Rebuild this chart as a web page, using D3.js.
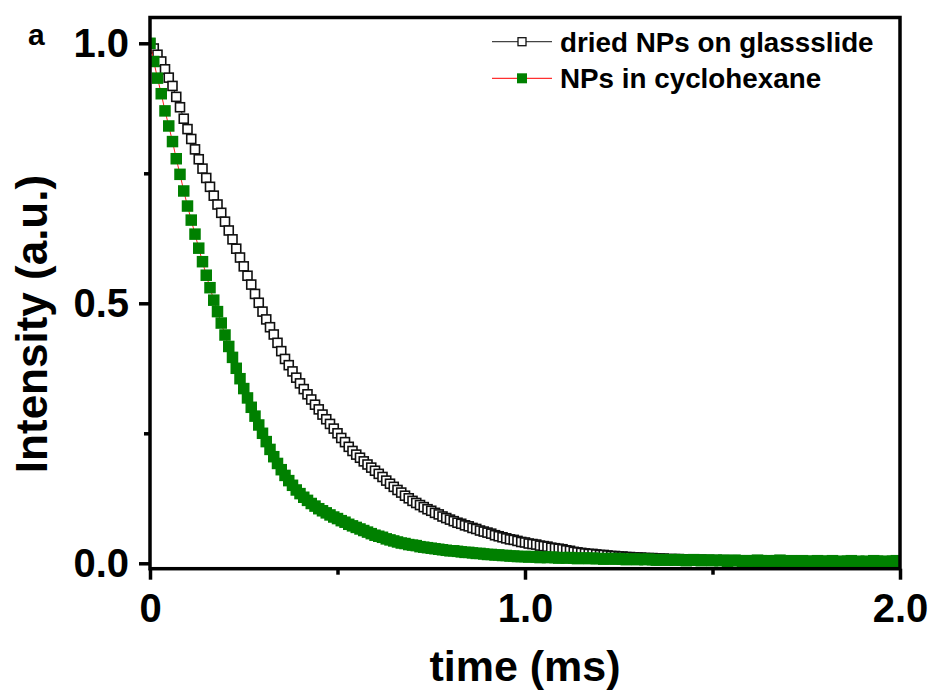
<!DOCTYPE html>
<html>
<head>
<meta charset="utf-8">
<script src="https://cdnjs.cloudflare.com/ajax/libs/d3/7.8.5/d3.min.js"></script>
<style>
  body { margin: 0; background: #fff; }
  svg { display: block; font-family: "Liberation Sans", Arial, sans-serif; font-weight: bold; }
  .axis path.domain { display: none; }
  .axis line { stroke: #000; stroke-width: 3.5; }
  .axis text { fill: #000; font-size: 40px; font-weight: bold; font-family: "Liberation Sans", Arial, sans-serif; }
</style>
</head>
<body>
<div id="plot-container"></div>
<script>
// sampling times (ms)
var timeMs = [
  0.00,0.01,0.02,0.03,0.04,0.05,0.06,0.07,0.08,0.09,
  0.10,0.11,0.12,0.13,0.14,0.15,0.16,0.17,0.18,0.19,
  0.20,0.21,0.22,0.23,0.24,0.25,0.26,0.27,0.28,0.29,
  0.30,0.31,0.32,0.33,0.34,0.35,0.36,0.37,0.38,0.39,
  0.40,0.41,0.42,0.43,0.44,0.45,0.46,0.47,0.48,0.49,
  0.50,0.51,0.52,0.53,0.54,0.55,0.56,0.57,0.58,0.59,
  0.60,0.61,0.62,0.63,0.64,0.65,0.66,0.67,0.68,0.69,
  0.70,0.71,0.72,0.73,0.74,0.75,0.76,0.77,0.78,0.79,
  0.80,0.81,0.82,0.83,0.84,0.85,0.86,0.87,0.88,0.89,
  0.90,0.91,0.92,0.93,0.94,0.95,0.96,0.97,0.98,0.99,
  1.00,1.01,1.02,1.03,1.04,1.05,1.06,1.07,1.08,1.09,
  1.10,1.11,1.12,1.13,1.14,1.15,1.16,1.17,1.18,1.19,
  1.20,1.21,1.22,1.23,1.24,1.25,1.26,1.27,1.28,1.29,
  1.30,1.31,1.32,1.33,1.34,1.35,1.36,1.37,1.38,1.39,
  1.40,1.41,1.42,1.43,1.44,1.45,1.46,1.47,1.48,1.49,
  1.50,1.51,1.52,1.53,1.54,1.55,1.56,1.57,1.58,1.59,
  1.60,1.61,1.62,1.63,1.64,1.65,1.66,1.67,1.68,1.69,
  1.70,1.71,1.72,1.73,1.74,1.75,1.76,1.77,1.78,1.79,
  1.80,1.81,1.82,1.83,1.84,1.85,1.86,1.87,1.88,1.89,
  1.90,1.91,1.92,1.93,1.94,1.95,1.96,1.97,1.98,1.99,
  2.00
];

// dried NPs on glassslide (open squares)
var driedValues = [
  1.000,0.990,0.978,0.965,0.950,0.934,0.918,0.897,0.877,0.855,
  0.835,0.816,0.796,0.777,0.759,0.741,0.724,0.707,0.690,0.674,
  0.657,0.640,0.623,0.605,0.588,0.571,0.553,0.536,0.518,0.501,
  0.484,0.469,0.454,0.440,0.424,0.408,0.393,0.381,0.369,0.357,
  0.346,0.335,0.325,0.315,0.305,0.296,0.286,0.277,0.268,0.259,
  0.250,0.241,0.233,0.224,0.216,0.209,0.203,0.196,0.190,0.184,
  0.178,0.172,0.166,0.159,0.153,0.147,0.141,0.136,0.130,0.125,
  0.120,0.116,0.112,0.108,0.104,0.101,0.097,0.094,0.090,0.087,
  0.084,0.081,0.078,0.076,0.073,0.071,0.068,0.066,0.063,0.061,
  0.059,0.057,0.054,0.052,0.050,0.048,0.046,0.045,0.043,0.041,
  0.040,0.038,0.037,0.036,0.034,0.033,0.032,0.030,0.029,0.028,
  0.027,0.025,0.024,0.022,0.021,0.020,0.019,0.018,0.018,0.017,
  0.016,0.016,0.015,0.014,0.014,0.013,0.013,0.012,0.012,0.011,
  0.011,0.011,0.010,0.010,0.010,0.009,0.009,0.009,0.008,0.008,
  0.008,0.008,0.007,0.007,0.007,0.007,0.006,0.007,0.006,0.006,
  0.006,0.006,0.005,0.006,0.005,0.005,0.005,0.005,0.004,0.005,
  0.004,0.005,0.004,0.004,0.004,0.004,0.003,0.004,0.004,0.003,
  0.003,0.004,0.003,0.003,0.003,0.003,0.003,0.002,0.003,0.003,
  0.002,0.003,0.002,0.002,0.003,0.002,0.002,0.002,0.002,0.002,
  0.002,0.002,0.001,0.002,0.002,0.001,0.002,0.001,0.001,0.002,
  0.001
];

// NPs in cyclohexane (filled green squares)
var cyclohexaneValues = [
  1.000,0.965,0.933,0.903,0.870,0.841,0.811,0.778,0.748,0.716,
  0.687,0.660,0.633,0.606,0.580,0.554,0.530,0.506,0.484,0.462,
  0.439,0.417,0.396,0.375,0.355,0.336,0.318,0.300,0.283,0.266,
  0.250,0.234,0.219,0.205,0.192,0.180,0.169,0.159,0.150,0.141,
  0.134,0.127,0.121,0.115,0.110,0.105,0.101,0.097,0.093,0.089,
  0.086,0.082,0.079,0.075,0.072,0.069,0.066,0.063,0.060,0.057,
  0.054,0.052,0.050,0.047,0.045,0.043,0.041,0.039,0.038,0.036,
  0.035,0.034,0.032,0.031,0.030,0.029,0.028,0.027,0.026,0.025,
  0.024,0.024,0.023,0.022,0.021,0.021,0.020,0.019,0.019,0.018,
  0.017,0.017,0.016,0.016,0.015,0.015,0.014,0.014,0.013,0.013,
  0.013,0.012,0.013,0.012,0.011,0.012,0.011,0.012,0.011,0.010,
  0.011,0.010,0.011,0.010,0.009,0.010,0.010,0.009,0.010,0.009,
  0.009,0.008,0.009,0.009,0.008,0.009,0.008,0.007,0.008,0.008,
  0.007,0.008,0.007,0.008,0.007,0.006,0.007,0.007,0.006,0.007,
  0.006,0.007,0.006,0.005,0.006,0.007,0.006,0.005,0.006,0.006,
  0.005,0.006,0.005,0.006,0.004,0.005,0.006,0.005,0.004,0.005,
  0.005,0.004,0.006,0.005,0.004,0.005,0.004,0.005,0.006,0.004,
  0.004,0.005,0.003,0.004,0.005,0.004,0.003,0.004,0.005,0.004,
  0.003,0.004,0.005,0.003,0.004,0.003,0.004,0.005,0.003,0.004,
  0.003,0.004,0.003,0.005,0.004,0.003,0.004,0.003,0.004,0.005,
  0.004
];

var xTicks = [0, 1.0, 2.0], xMinorTicks = [0.5, 1.5];
var yTicks = [0, 0.5, 1.0], yMinorTicks = [0.25, 0.75];
var seriesNames = ['dried NPs on glassslide', 'NPs in cyclohexane'];

// layout
var totalWidth = 931, totalHeight = 693;
var plotBox = {left: 150, right: 900, top: 17.5, bottom: 568.7};
var green = '#008000';

var xScale = d3.scaleLinear().domain([0, 2]).range([plotBox.left, plotBox.right]);
var yScale = d3.scaleLinear().domain([-0.0104, 1.0496]).range([plotBox.bottom, plotBox.top]);

var svg = d3.select('#plot-container').append('svg').attr('width', totalWidth).attr('height', totalHeight);
svg.append('rect').attr('width', totalWidth).attr('height', totalHeight).attr('fill', '#fff');

svg.append('clipPath').attr('id', 'plot-clip').append('rect')
  .attr('x', plotBox.left).attr('y', plotBox.top)
  .attr('width', plotBox.right - plotBox.left).attr('height', plotBox.bottom - plotBox.top);

var dried = timeMs.map(function(t, i) { return [t, driedValues[i]]; });
var cyclo = timeMs.map(function(t, i) { return [t, cyclohexaneValues[i]]; });
var line = d3.line().x(function(d) { return xScale(d[0]); }).y(function(d) { return yScale(d[1]); });

var plot = svg.append('g').attr('clip-path', 'url(#plot-clip)');

// dried series: dark line + open squares
plot.append('path').attr('d', line(dried)).attr('fill', 'none').attr('stroke', '#333').attr('stroke-width', 1);
var openSize = 9;
plot.selectAll('rect.open').data(dried).enter().append('rect').attr('class', 'open')
  .attr('x', function(d) { return xScale(d[0]) - openSize / 2; })
  .attr('y', function(d) { return yScale(d[1]) - openSize / 2; })
  .attr('width', openSize).attr('height', openSize)
  .attr('fill', '#fff').attr('stroke', '#111').attr('stroke-width', 1.6);

// cyclohexane series: red line + filled green squares
plot.append('path').attr('d', line(cyclo)).attr('fill', 'none').attr('stroke', '#ff2020').attr('stroke-width', 1);
var fillSize = 11.5;
plot.selectAll('rect.filled').data(cyclo).enter().append('rect').attr('class', 'filled')
  .attr('x', function(d) { return xScale(d[0]) - fillSize / 2; })
  .attr('y', function(d) { return yScale(d[1]) - fillSize / 2; })
  .attr('width', fillSize).attr('height', fillSize)
  .attr('fill', green);

// frame
svg.append('rect').attr('x', plotBox.left).attr('y', plotBox.top)
  .attr('width', plotBox.right - plotBox.left).attr('height', plotBox.bottom - plotBox.top)
  .attr('fill', 'none').attr('stroke', '#000').attr('stroke-width', 3.5);

// axes
var xFormat = function(d) { return d === 0 ? '0' : d3.format('.1f')(d); };
svg.append('g').attr('class', 'axis').attr('transform', 'translate(0,' + plotBox.bottom + ')')
  .call(d3.axisBottom(xScale).tickValues(xTicks).tickFormat(xFormat).tickSize(11).tickSizeOuter(0).tickPadding(14));
svg.append('g').attr('class', 'axis').attr('transform', 'translate(0,' + plotBox.bottom + ')')
  .call(d3.axisBottom(xScale).tickValues(xMinorTicks).tickFormat('').tickSize(6).tickSizeOuter(0));

svg.append('g').attr('class', 'axis').attr('transform', 'translate(' + plotBox.left + ',0)')
  .call(d3.axisLeft(yScale).tickValues(yTicks).tickFormat(d3.format('.1f')).tickSize(11).tickSizeOuter(0).tickPadding(10));
svg.append('g').attr('class', 'axis').attr('transform', 'translate(' + plotBox.left + ',0)')
  .call(d3.axisLeft(yScale).tickValues(yMinorTicks).tickFormat('').tickSize(6).tickSizeOuter(0));

// titles
svg.append('text').attr('x', xScale(1)).attr('y', 681).attr('text-anchor', 'middle')
  .style('font-size', '43px').text('time (ms)');
svg.append('text').attr('transform', 'translate(47,324) rotate(-90)').attr('text-anchor', 'middle')
  .style('font-size', '44px').text('Intensity (a.u.)');
svg.append('text').attr('x', 28).attr('y', 45).style('font-size', '30px').text('a');

// legend
var legend = svg.append('g').attr('transform', 'translate(492,0)');
var rows = legend.selectAll('g.row').data(seriesNames).enter().append('g').attr('class', 'row')
  .attr('transform', function(d, i) { return 'translate(0,' + (41.7 + i * 36.6) + ')'; });
rows.append('line').attr('x1', 0).attr('x2', 60)
  .attr('stroke', function(d, i) { return i === 0 ? '#444' : '#ff3030'; }).attr('stroke-width', 1.2);
rows.append('rect').attr('x', function(d, i) { return i === 0 ? 26 : 25; }).attr('y', function(d, i) { return i === 0 ? -4 : -5; })
  .attr('width', function(d, i) { return i === 0 ? 8 : 10; }).attr('height', function(d, i) { return i === 0 ? 8 : 10; })
  .attr('fill', function(d, i) { return i === 0 ? '#fff' : green; })
  .attr('stroke', function(d, i) { return i === 0 ? '#111' : 'none'; }).attr('stroke-width', 1.3);
rows.append('text').attr('x', 68).attr('y', 10).style('font-size', '27.8px').text(function(d) { return d; });
</script>
</body>
</html>
